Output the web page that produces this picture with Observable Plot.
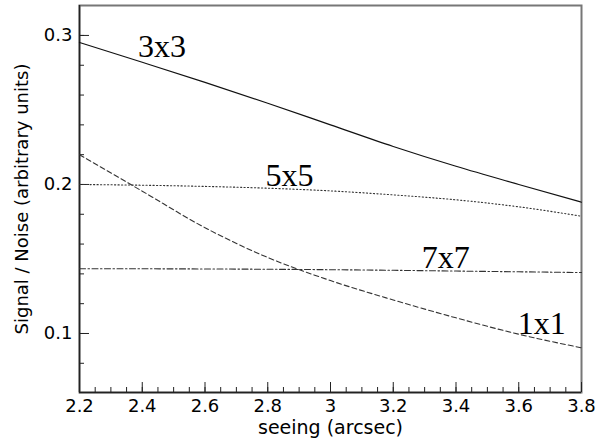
<!DOCTYPE html>
<html>
<head>
<meta charset="utf-8">
<script src="https://cdn.jsdelivr.net/npm/d3@7"></script>
<script src="https://cdn.jsdelivr.net/npm/@observablehq/plot@0.6"></script>
<style>
  html, body { margin: 0; padding: 0; background: #fff; }
</style>
</head>
<body>
<div id="chart"></div>
<script>
// ---- data ----
const seeing = [2.2, 2.4, 2.6, 2.8, 3.0, 3.2, 3.4, 3.6, 3.8];
const sn1x1 = [0.2200, 0.1955, 0.1710, 0.1510, 0.1355, 0.1225, 0.1105, 0.0995, 0.0904];
const sn3x3 = [0.2953, 0.2820, 0.2685, 0.2545, 0.2400, 0.2255, 0.2122, 0.2000, 0.1881];
const sn5x5 = [0.2000, 0.1995, 0.1987, 0.1975, 0.1957, 0.1930, 0.1897, 0.1850, 0.1787];
const sn7x7 = [0.1434, 0.1434, 0.1433, 0.1431, 0.1428, 0.1424, 0.1419, 0.1414, 0.1409];

const seriesNames = ["1x1", "3x3", "5x5", "7x7"];
const labelSeeing = [3.673, 2.463, 2.869, 3.367];
const labelSN = [0.1065, 0.2926, 0.2058, 0.151];

const xTicks = [2.2, 2.4, 2.6, 2.8, 3.0, 3.2, 3.4, 3.6, 3.8];
const xMinorTicks = d3.range(44, 77).map(d => d / 20);
const yTicks = [0.1, 0.2, 0.3];
const yMinorTicks = d3.range(4, 16).map(d => d / 50);

const xDomain = [2.2, 3.8];
const yDomain = [0.0604, 0.3201];
const xTitle = "seeing (arcsec)";
const yTitle = "Signal / Noise (arbitrary units)";

// ---- build ----
const W = 605, H = 442;
const mL = 79, mR = 24, mT = 5, mB = 50;
const fw = W - mL - mR, fh = H - mT - mB;

const mk = (vals) => seeing.map((s, i) => ({s, v: vals[i]}));
const lineStyles = [
  {data: mk(sn1x1), dash: "5,3", stroke: "#333", w: 1.1},
  {data: mk(sn3x3), dash: null, stroke: "#111", w: 1.2},
  {data: mk(sn5x5), dash: "1.2,2.3", stroke: "#333", w: 1.1},
  {data: mk(sn7x7), dash: "6,2.5,1.5,2.5", stroke: "#333", w: 1.1}
];
const labels = seriesNames.map((n, i) => ({n, s: labelSeeing[i], v: labelSN[i]}));

const fmt = d3.format("~g");

const chart = Plot.plot({
  width: W,
  height: H,
  marginLeft: mL,
  marginRight: mR,
  marginTop: mT,
  marginBottom: mB,
  style: {fontFamily: "DejaVu Sans", fontSize: "18px", color: "#000", background: "#fff"},
  x: {domain: xDomain, label: null},
  y: {domain: yDomain, label: null},
  marks: [
    Plot.frame({stroke: "#777", strokeWidth: 2}),
    Plot.ruleX([xDomain[0]], {stroke: "#222", strokeWidth: 1.5}),
    Plot.ruleY([yDomain[0]], {stroke: "#222", strokeWidth: 1.5}),
    // minor and major inward ticks
    Plot.tickX(xMinorTicks, {x: d => d, insetTop: fh - 5, stroke: "#222"}),
    Plot.tickX(xTicks, {x: d => d, insetTop: fh - 10, stroke: "#222"}),
    Plot.tickY(yMinorTicks, {y: d => d, insetRight: fw - 5, stroke: "#222"}),
    Plot.tickY(yTicks, {y: d => d, insetRight: fw - 10, stroke: "#222"}),
    Plot.axisX({ticks: xTicks, tickSize: 0, tickPadding: 7, tickFormat: fmt, label: null, fontSize: 18}),
    Plot.axisY({ticks: yTicks, tickSize: 0, tickPadding: 7, tickFormat: fmt, label: null, fontSize: 18}),
    // curves
    ...lineStyles.map(ls => Plot.line(ls.data, {
      x: "s", y: "v", curve: "monotone-x",
      stroke: ls.stroke, strokeWidth: ls.w,
      strokeDasharray: ls.dash
    })),
    // curve labels
    Plot.text(labels, {
      x: "s", y: "v", text: "n",
      fontFamily: "Liberation Serif", fontSize: 32, fill: "#000",
      lineAnchor: "middle"
    }),
    // axis titles
    Plot.text([xTitle], {frameAnchor: "bottom", dy: 35, text: d => d, fill: "#000",
      textAnchor: "middle", lineAnchor: "middle", fontSize: 19}),
    Plot.text([yTitle], {frameAnchor: "left", dx: -57, rotate: -90, text: d => d, fill: "#000",
      textAnchor: "middle", lineAnchor: "middle", fontSize: 18})
  ]
});

document.getElementById("chart").appendChild(chart);
</script>
</body>
</html>
